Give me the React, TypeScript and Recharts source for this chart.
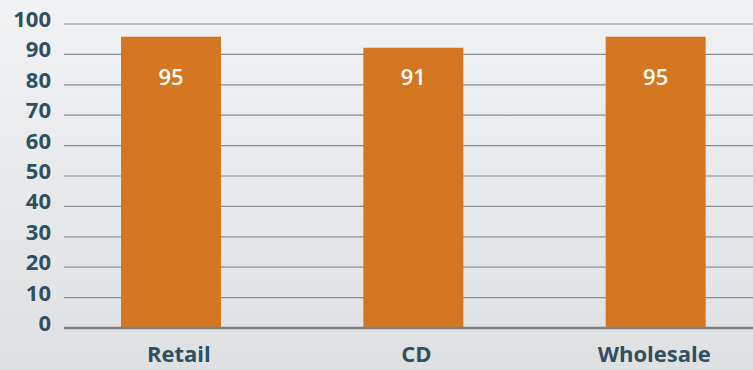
import React from 'react';
import { BarChart, Bar, XAxis, YAxis, CartesianGrid, LabelList } from 'recharts';

const categories = ['Retail', 'CD', 'Wholesale'];
const barValues = [95.8, 92.2, 95.8];
const valueLabels = ['95', '91', '95'];
const yTicks = [0, 10, 20, 30, 40, 50, 60, 70, 80, 90, 100];

const data = categories.map((name, i) => ({ name, value: barValues[i], label: valueLabels[i] }));

const TEXT = '#2f5060';
const FONT = '"Open Sans", sans-serif';

const YTick = (props: any) => {
  const { x, y, payload } = props;
  return (
    <text x={x} y={y - 5} dy="0.36em" textAnchor="end" fill={TEXT} fontFamily={FONT} fontSize={22} fontWeight={700}>
      {payload.value}
    </text>
  );
};

const XTick = (props: any) => {
  const { x, y, payload } = props;
  return (
    <text x={x} y={y + 26} textAnchor="middle" fill={TEXT} fontFamily={FONT} fontSize={22} fontWeight={700}>
      {payload.value}
    </text>
  );
};

const ValueLabel = (props: any) => {
  const { x, width, value } = props;
  return (
    <text x={x + width / 2} y={77} dy="0.36em" textAnchor="middle" fill="#ffffff" fontFamily={FONT} fontSize={22} fontWeight={600}>
      {value}
    </text>
  );
};

export default function App() {
  return (
    <div
      style={{
        position: 'fixed',
        top: 0,
        left: 0,
        width: 753,
        height: 370,
        background: 'linear-gradient(to bottom, #f1f2f4 0%, #dfe0e2 100%)',
      }}
    >
      <BarChart width={753} height={370} data={data} margin={{ top: 24, right: 0, bottom: 0, left: 0 }}>
        <CartesianGrid vertical={false} stroke="#8c8e90" strokeWidth={1.2} />
        <XAxis
          xAxisId="bars"
          dataKey="name"
          hide
          height={0}
          padding={{ left: -14, right: -24 }}
        />
        <XAxis
          xAxisId="labels"
          dataKey="name"
          height={42}
          padding={{ left: -4, right: -20 }}
          axisLine={{ stroke: '#7f8082', strokeWidth: 2.5 }}
          tickLine={false}
          tick={<XTick />}
          interval={0}
        />
        <YAxis
          width={64}
          domain={[0, 100]}
          ticks={yTicks}
          axisLine={false}
          tickLine={false}
          tickSize={0}
          tickMargin={13}
          tick={<YTick />}
          interval={0}
        />
        <Bar xAxisId="bars" dataKey="value" fill="#d47720" barSize={100} isAnimationActive={false}>
          <LabelList dataKey="label" content={<ValueLabel />} />
        </Bar>
      </BarChart>
    </div>
  );
}
